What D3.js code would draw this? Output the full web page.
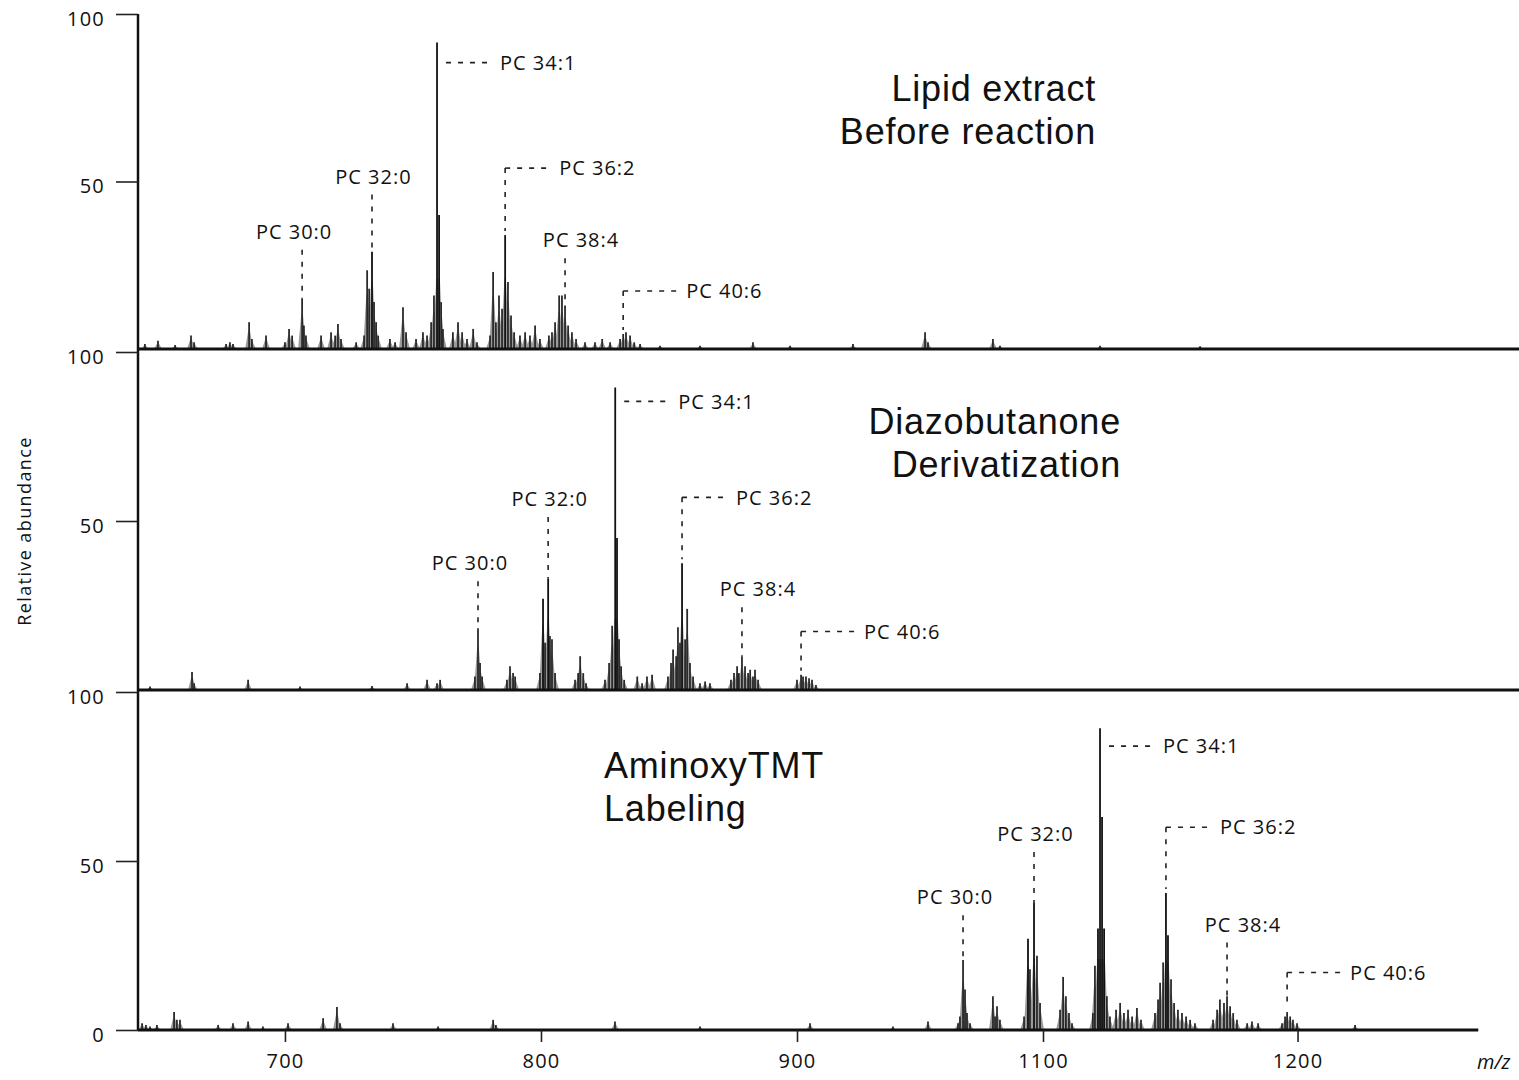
<!DOCTYPE html>
<html><head><meta charset="utf-8">
<script src="https://cdn.jsdelivr.net/npm/d3@7"></script>
<style>body{margin:0;background:#fff;} svg{display:block;background:#fff}</style>
</head><body><svg id="c" width="1519" height="1080"></svg>
<script>
// ---------- data ----------
const panelTitles = [["Lipid extract","Before reaction"],["Diazobutanone","Derivatization"],["AminoxyTMT","Labeling"]];
const xTickValues = [700, 800, 900, 1100, 1200];
const xAxisLabel = "m/z";
const yAxisLabel = "Relative abundance";
const yTickValuesUpper = [50, 100];
const yTickValuesLower = [0, 50, 100];

// [m/z, relative abundance]
const spectrumLipid = [[645.3,1.5],[650.4,2.5],[657.1,1.2],[663.3,4],[664.5,2],[677.0,1.5],[678.5,2],[679.7,1.5],[686.0,8],[687.1,3],[692.6,4],[700.0,2],[701.6,6],[702.8,4],[706.7,15],[707.4,7],[708.2,4],[714.1,4],[718.0,5],[719.6,4],[720.7,7.5],[721.9,3],[727.8,2],[730.9,4],[732.1,23.5],[732.9,18],[734.0,29],[734.8,14],[735.6,8],[736.4,4],[741.0,3],[743.0,2],[746.1,12.5],[747.3,5],[751.2,3],[753.9,5],[755.5,4],[757.1,8],[758.2,16],[759.4,91.5],[760.2,40],[761.0,14],[761.7,6],[765.6,5],[767.6,8],[769.2,5],[771.1,3],[773.5,6],[775.0,2],[780.1,4],[781.3,23],[782.4,8],[783.6,16],[784.8,12],[786.0,34],[787.1,20],[788.3,10],[789.5,5],[791.8,4],[793.8,5],[795.7,4],[797.7,7],[799.6,3],[803.1,4],[804.3,5],[805.5,8],[807.1,16],[808.2,16],[809.4,13],[810.6,7],[812.1,5],[813.7,3],[817.2,2],[821.1,2],[823.9,3],[827.0,2],[830.9,3],[832.1,4.5],[833.2,5],[834.8,4],[836.4,2],[838.7,1.5],[846.5,1],[862.1,1],[882.8,2],[897.3,1],[945.5,1.5],[1004.1,5],[1006.5,2],[1059.3,3],[1065.0,1],[1122.4,1],[1161.7,0.8]];
const spectrumDiazo = [[647.3,1],[663.7,5.3],[664.5,2],[685.6,3],[705.9,1],[734.0,1.2],[747.7,2],[755.5,3],[759.4,2],[760.6,3],[774.2,4],[775.4,18.3],[776.2,8],[777.0,4],[786.7,3],[787.9,7],[789.1,5],[789.9,4],[799.6,5],[800.8,27],[801.6,14],[802.8,33],[803.5,16],[804.3,15],[805.5,5],[813.3,3],[814.5,5],[815.3,10],[816.5,5],[817.6,2],[825.0,3],[826.6,8],[827.8,19],[829.0,89.5],[829.7,45],[830.5,15],[831.3,7],[832.5,3],[837.6,4],[839.5,2],[841.4,4],[843.4,4.5],[849.6,4],[850.8,8],[851.6,12],[852.8,10],[853.5,18.6],[854.3,14],[855.1,37.5],[856.3,15],[857.1,24],[858.2,8],[859.4,4],[862.1,2],[864.1,2.5],[866.0,2],[874.2,3],[875.4,5],[876.6,7],[877.3,5],[878.5,10],[879.7,7],[880.9,5],[881.7,6],[882.8,4],[883.6,6],[884.8,3],[900.0,3],[903.3,4.5],[904.9,4],[907.3,4],[909.8,3.5],[912.2,3],[915.4,1.5]];
const spectrumTMT = [[644.2,2],[645.7,1.5],[647.3,1],[650.0,1.5],[656.7,5.3],[657.8,3],[659.0,3],[673.9,1.5],[679.7,2],[685.6,2.5],[691.4,1],[701.2,2],[714.9,3.5],[720.3,6.8],[721.5,2],[742.2,2],[759.8,1],[781.3,3],[782.4,1.5],[828.9,2.5],[862.1,1],[910.6,2],[978.0,1],[1006.5,2.5],[1030.9,2],[1032.5,4],[1035.0,20.7],[1036.6,12],[1038.2,5],[1040.7,2],[1059.3,10],[1061.0,4],[1062.6,7],[1065.0,3],[1084.6,4],[1087.8,27],[1089.4,18],[1092.7,37.6],[1095.1,22],[1097.6,8],[1106.7,6],[1107.9,15.7],[1109.0,10],[1110.2,5],[1111.4,2],[1119.6,5],[1120.4,19],[1121.6,30],[1122.4,89.3],[1123.2,63],[1124.0,30],[1125.1,10],[1126.3,4],[1128.7,6],[1130.3,8],[1131.8,5],[1133.4,6],[1135.0,4],[1136.9,6.5],[1138.5,3],[1144.0,5],[1145.2,9],[1146.0,14],[1147.2,20],[1148.3,40.5],[1149.1,28],[1150.3,15],[1151.5,8],[1153.0,6],[1154.6,5],[1156.2,4],[1157.8,3],[1159.7,2],[1166.8,3],[1168.4,6],[1169.5,9],[1171.1,8],[1172.3,10],[1173.5,7],[1174.7,5],[1176.2,3],[1180.2,2],[1182.1,2.5],[1184.5,2],[1193.9,2],[1195.1,4],[1195.9,5.3],[1197.1,4],[1198.2,3],[1199.8,2],[1222.6,1.5]];

// peak annotations: label, m/z of labelled peak, label level (relative abundance), style
const annotLipid = [
  {label:"PC 30:0", mz:706.7, level:35, style:"above"},
  {label:"PC 32:0", mz:734.0, level:51.5, style:"above"},
  {label:"PC 34:1", mz:759.4, level:85.5, style:"right"},
  {label:"PC 36:2", mz:786.0, level:54, style:"right"},
  {label:"PC 38:4", mz:809.4, level:32.5, style:"above"},
  {label:"PC 40:6", mz:832.1, level:17.3, style:"right"}];
const annotDiazo = [
  {label:"PC 30:0", mz:775.4, level:37.5, style:"above"},
  {label:"PC 32:0", mz:802.8, level:56.5, style:"above"},
  {label:"PC 34:1", mz:829.0, level:85.4, style:"right"},
  {label:"PC 36:2", mz:855.1, level:57, style:"right"},
  {label:"PC 38:4", mz:878.5, level:29.8, style:"above"},
  {label:"PC 40:6", mz:903.3, level:17.3, style:"right"}];
const annotTMT = [
  {label:"PC 30:0", mz:1035.0, level:39.3, style:"above"},
  {label:"PC 32:0", mz:1092.7, level:58, style:"above"},
  {label:"PC 34:1", mz:1122.4, level:84, style:"right"},
  {label:"PC 36:2", mz:1148.3, level:60, style:"right"},
  {label:"PC 38:4", mz:1172.3, level:31.2, style:"above"},
  {label:"PC 40:6", mz:1195.9, level:17, style:"right"}];

const spectra = [spectrumLipid, spectrumDiazo, spectrumTMT];
const annots = [annotLipid, annotDiazo, annotTMT];

// ---------- layout ----------
const svg = d3.select("#c");
const axisX0 = 138;
const panelTop = [14, 352, 692];
const panelBase = [349, 690, 1030];
const lineEnd = [1287, 1287, 1271];
const x = d3.scaleLinear().domain([642.6, 900, 1100, 1287]).range([axisX0, 797, 1043, 1519]);
const labelFont = "'Open Sans', 'Noto Sans', sans-serif";
const titleFont = "'Liberation Sans', Arial, sans-serif";
const aboveDx = {"PC 30:0": -8, "PC 32:0": 1.5, "PC 38:4": 16};
const rightDx = {"PC 34:1": 63, "PC 36:2": 54, "PC 40:6": 63};

// vertical axis line
svg.append("line").attr("x1", axisX0).attr("x2", axisX0)
  .attr("y1", panelTop[0]).attr("y2", panelBase[2])
  .attr("stroke", "#111").attr("stroke-width", 2.5);

spectra.forEach((spec, i) => {
  const y = d3.scaleLinear().domain([0, 100]).range([panelBase[i], panelTop[i]]);
  const g = svg.append("g");

  // y axis ticks
  const yAxis = d3.axisLeft(y).tickValues(i === 2 ? yTickValuesLower : yTickValuesUpper)
    .tickSize(22).tickPadding(11).tickFormat(d3.format("d"));
  const ya = g.append("g").attr("transform", `translate(${axisX0},0)`).call(yAxis);
  ya.select(".domain").remove();
  ya.selectAll(".tick line").attr("stroke", "#222").attr("stroke-width", 1.6);
  ya.selectAll(".tick text").attr("font-family", labelFont).attr("font-size", 20)
    .attr("letter-spacing", 1.2).attr("fill", "#111").attr("dy", "0.55em");

  // profile-like peak shapes (gray halftone look)
  const hw = 4;
  g.append("g").selectAll("path").data(spec).join("path")
    .attr("d", d => {
      const cx = x(d[0]), top = y(Math.min(d[1], 30) * 0.7);
      return `M${cx - hw},${y(0)}L${cx - 0.8},${top}L${cx + 0.8},${top}L${cx + hw},${y(0)}Z`;
    })
    .attr("fill", "#9a9a9a");

  // sticks
  g.append("g").selectAll("line").data(spec).join("line")
    .attr("x1", d => x(d[0])).attr("x2", d => x(d[0]))
    .attr("y1", y(0)).attr("y2", d => y(d[1]))
    .attr("stroke", d => d[1] > 25 ? "#111" : "#2a2a2a")
    .attr("stroke-width", 1.8);

  // baseline
  g.append("line").attr("x1", axisX0).attr("x2", x(lineEnd[i]))
    .attr("y1", y(0)).attr("y2", y(0))
    .attr("stroke", "#111").attr("stroke-width", 3);

  // annotations
  annots[i].forEach(a => {
    const near = spec.reduce((b, d) => Math.abs(d[0] - a.mz) < Math.abs(b[0] - a.mz) ? d : b);
    const px = x(a.mz), peakY = y(near[1]), ly = y(a.level);
    const dash = g.append("g").attr("stroke", "#222").attr("stroke-width", 1.6)
      .attr("stroke-dasharray", "5,7").attr("fill", "none");
    if (a.style === "above") {
      dash.append("line").attr("x1", px).attr("x2", px).attr("y1", ly + 18).attr("y2", peakY);
      g.append("text").attr("x", px + aboveDx[a.label]).attr("y", ly).attr("dy", "0.36em")
        .attr("text-anchor", "middle").attr("font-family", labelFont).attr("font-size", 20)
        .attr("letter-spacing", 1).attr("fill", "#111").text(a.label);
    } else {
      const dx = rightDx[a.label];
      if (peakY > ly) dash.append("line").attr("x1", px).attr("x2", px).attr("y1", ly).attr("y2", peakY - 4);
      dash.append("line").attr("x1", px + (peakY > ly ? 0 : 9)).attr("x2", px + dx - 8).attr("y1", ly).attr("y2", ly);
      g.append("text").attr("x", px + dx).attr("y", ly).attr("dy", "0.36em")
        .attr("font-family", labelFont).attr("font-size", 20)
        .attr("letter-spacing", 1).attr("fill", "#111").text(a.label);
    }
  });
});

// panel titles
const titlePos = [{x: 1096, y: 101, anchor: "end"}, {x: 1121, y: 434, anchor: "end"}, {x: 604, y: 778, anchor: "start"}];
panelTitles.forEach((lines, i) => {
  const t = svg.append("text").attr("x", titlePos[i].x).attr("y", titlePos[i].y)
    .attr("text-anchor", titlePos[i].anchor).attr("font-family", titleFont)
    .attr("font-size", 36).attr("letter-spacing", 0.8).attr("fill", "#111");
  lines.forEach((l, k) => t.append("tspan").attr("x", titlePos[i].x).attr("dy", k === 0 ? 0 : 43).text(l));
});

// x axis (bottom)
const xAxis = d3.axisBottom(x).tickValues(xTickValues).tickSize(12).tickPadding(12).tickFormat(d3.format("d"));
const xa = svg.append("g").attr("transform", `translate(0,${panelBase[2]})`).call(xAxis);
xa.select(".domain").remove();
xa.selectAll(".tick line").attr("stroke", "#222").attr("stroke-width", 1.6);
xa.selectAll(".tick text").attr("font-family", labelFont).attr("font-size", 20)
  .attr("letter-spacing", 1.2).attr("fill", "#111");

svg.append("text").attr("x", 1477).attr("y", 1069).attr("font-family", labelFont)
  .attr("font-style", "italic").attr("font-size", 20).attr("fill", "#111").text(xAxisLabel);

svg.append("text").attr("transform", "translate(31,531) rotate(-90)")
  .attr("text-anchor", "middle").attr("font-family", labelFont).attr("font-size", 18)
  .attr("letter-spacing", 1.4).attr("fill", "#111").text(yAxisLabel);
</script></body></html>
